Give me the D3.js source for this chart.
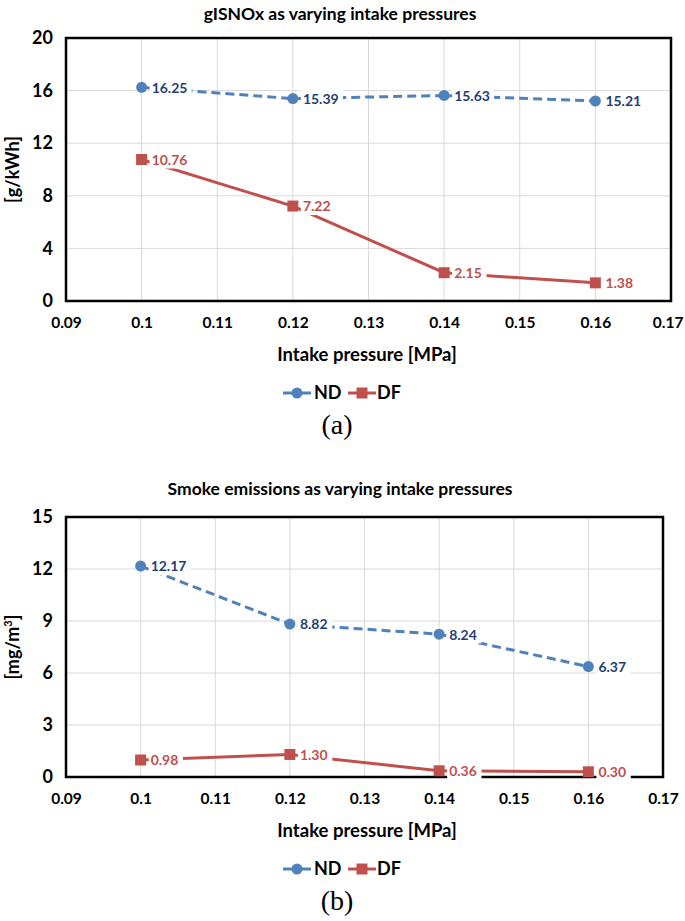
<!DOCTYPE html>
<html>
<head>
<meta charset="utf-8">
<script src="https://cdn.jsdelivr.net/npm/d3@7"></script>
<style>
  body { margin: 0; background: #fff; }
  svg { display: block; }
  text { font-family: Lato, "Open Sans", sans-serif; }
</style>
</head>
<body>
<svg id="fig" width="685" height="921"></svg>
<script>
// data
var pressures = [0.10, 0.12, 0.14, 0.16];
var xTicks = [0.09, 0.10, 0.11, 0.12, 0.13, 0.14, 0.15, 0.16, 0.17];

var noxND = [16.25, 15.39, 15.63, 15.21];
var noxDF = [10.76, 7.22, 2.15, 1.38];
var noxTicks = [0, 4, 8, 12, 16, 20];

var smokeND = [12.17, 8.82, 8.24, 6.37];
var smokeDF = [0.98, 1.30, 0.36, 0.30];
var smokeTicks = [0, 3, 6, 9, 12, 15];

var BLUE = '#4f81bd';
var BLUE_TEXT = '#1f3f73';
var RED = '#c0504d';
var GRID = '#d9d9d9';

var svg = d3.select('#fig');

function drawPanel(opt) {
	var g = svg.append('g');

	var x = d3.scaleLinear().domain([0.09, 0.17]).range([66, opt.right]);
	var y = d3.scaleLinear().domain([0, opt.yMax]).range([opt.plotBottom, opt.plotTop]);

	g.append('text')
		.attr('x', 340).attr('y', opt.titleY)
		.attr('text-anchor', 'middle')
		.style('font-size', '17.5px').style('font-weight', 'bold')
		.text(opt.title);

	// grid
	g.append('g').selectAll('line').data(xTicks).join('line')
		.attr('x1', function (d) { return x(d); }).attr('x2', function (d) { return x(d); })
		.attr('y1', opt.plotTop).attr('y2', opt.plotBottom)
		.attr('stroke', GRID).attr('stroke-width', 1);
	g.append('g').selectAll('line').data(opt.yTicks).join('line')
		.attr('x1', 66).attr('x2', opt.right)
		.attr('y1', function (d) { return y(d); }).attr('y2', function (d) { return y(d); })
		.attr('stroke', GRID).attr('stroke-width', 1);

	// frame
	g.append('rect')
		.attr('x', 66).attr('y', opt.plotTop)
		.attr('width', opt.right - 66).attr('height', opt.plotBottom - opt.plotTop)
		.attr('fill', 'none').attr('stroke', '#000').attr('stroke-width', 2.5);

	// axes (labels only)
	var yAxis = d3.axisLeft(y).tickValues(opt.yTicks).tickSize(0).tickPadding(13);
	var ya = g.append('g').attr('transform', 'translate(66,0)').call(yAxis);
	ya.select('.domain').remove();
	ya.selectAll('text').style('font-size', '18px').style('font-weight', 'bold')
		.style('font-family', 'Lato, sans-serif').attr('fill', '#000');

	var xAxis = d3.axisBottom(x).tickValues(xTicks).tickSize(0).tickPadding(16)
		.tickFormat(function (d) { return d3.format('.2~f')(d); });
	var xa = g.append('g').attr('transform', 'translate(0,' + opt.plotBottom + ')').call(xAxis);
	xa.select('.domain').remove();
	xa.selectAll('text').style('font-size', '15.5px').style('font-weight', 'bold')
		.style('font-family', 'Lato, sans-serif').attr('fill', '#000');
	// keep the last tick label inside the page
	xa.selectAll('text').each(function (d) {
		var w = this.getComputedTextLength();
		var over = x(d) + w / 2 - 683;
		if (over > 0) d3.select(this).attr('dx', -over);
	});

	g.append('text')
		.attr('x', 367).attr('y', opt.plotBottom + 60)
		.attr('text-anchor', 'middle')
		.style('font-size', '18.5px').style('font-weight', 'bold')
		.text('Intake pressure [MPa]');

	var yl = g.append('text')
		.attr('transform', 'translate(19,' + ((opt.plotTop + opt.plotBottom) / 2) + ') rotate(-90)')
		.attr('text-anchor', 'middle')
		.style('font-size', '18px').style('font-weight', 'bold');
	yl.append('tspan').text(opt.yLabel);
	if (opt.yLabelSup) {
		yl.append('tspan').attr('dy', -7).style('font-size', '11px').text(opt.yLabelSup);
		yl.append('tspan').attr('dy', 7).text(']');
	}

	var line = d3.line()
		.x(function (d) { return x(d[0]); })
		.y(function (d) { return y(d[1]); });

	var series = [
		{ name: 'ND', values: opt.nd, color: BLUE, text: BLUE_TEXT, dash: '9,5', shape: 'circle' },
		{ name: 'DF', values: opt.df, color: RED, text: RED, dash: null, shape: 'square' }
	];

	series.forEach(function (s) {
		var pts = pressures.map(function (p, i) { return [p, s.values[i]]; });
		g.append('path')
			.datum(pts)
			.attr('d', line)
			.attr('fill', 'none')
			.attr('stroke', s.color)
			.attr('stroke-width', 3)
			.attr('stroke-dasharray', s.dash);
	});

	series.forEach(function (s) {
		var pts = pressures.map(function (p, i) { return [p, s.values[i]]; });
		var lab = g.append('g').selectAll('g').data(pts).join('g')
			.attr('transform', function (d) { return 'translate(' + (x(d[0]) + 10) + ',' + y(d[1]) + ')'; });
		lab.append('rect')
			.attr('x', -2).attr('y', -9)
			.attr('width', function (d) { return opt.fmt(d[1]).length * 7.6 + 4; }).attr('height', 18)
			.attr('fill', '#fff');
		lab.append('text')
			.attr('dy', '0.38em')
			.style('font-size', '14px').style('font-weight', 'bold')
			.attr('fill', s.text)
			.text(function (d) { return opt.fmt(d[1]); });

		var mk = g.append('g').selectAll('.mk').data(pts).join(s.shape === 'circle' ? 'circle' : 'rect')
			.attr('fill', s.color);
		if (s.shape === 'circle') {
			mk.attr('cx', function (d) { return x(d[0]); }).attr('cy', function (d) { return y(d[1]); }).attr('r', 5.5);
		} else {
			mk.attr('x', function (d) { return x(d[0]) - 5.5; }).attr('y', function (d) { return y(d[1]) - 5.5; })
				.attr('width', 11).attr('height', 11);
		}
	});

	// legend
	var leg = g.append('g').attr('transform', 'translate(0,' + (opt.plotBottom + 92) + ')');
	leg.append('line').attr('x1', 283).attr('x2', 311).attr('stroke', BLUE).attr('stroke-width', 3).attr('stroke-dasharray', '10,3,3,3');
	leg.append('circle').attr('cx', 297).attr('r', 5.5).attr('fill', BLUE);
	leg.append('text').attr('x', 314).attr('dy', '0.36em').style('font-size', '18px').style('font-weight', 'bold').text('ND');
	leg.append('line').attr('x1', 348).attr('x2', 376).attr('stroke', RED).attr('stroke-width', 3);
	leg.append('rect').attr('x', 356.5).attr('y', -5.5).attr('width', 11).attr('height', 11).attr('fill', RED);
	leg.append('text').attr('x', 377).attr('dy', '0.36em').style('font-size', '18px').style('font-weight', 'bold').text('DF');

	g.append('text')
		.attr('x', 337).attr('y', opt.plotBottom + 133)
		.attr('text-anchor', 'middle')
		.style('font-family', '"Liberation Serif", "DejaVu Serif", serif')
		.style('font-size', '28px')
		.text(opt.caption);
}

drawPanel({
	title: 'gISNOx as varying intake pressures', titleY: 20,
	plotTop: 38, plotBottom: 301, right: 671, yMax: 20, yTicks: noxTicks,
	yLabel: '[g/kWh]', nd: noxND, df: noxDF, caption: '(a)',
	fmt: d3.format('.2f')
});

drawPanel({
	title: 'Smoke emissions as varying intake pressures', titleY: 495,
	plotTop: 517, plotBottom: 777, right: 663, yMax: 15, yTicks: smokeTicks,
	yLabel: '[mg/m', yLabelSup: '3', nd: smokeND, df: smokeDF, caption: '(b)',
	fmt: d3.format('.2f')
});
</script>
</body>
</html>
